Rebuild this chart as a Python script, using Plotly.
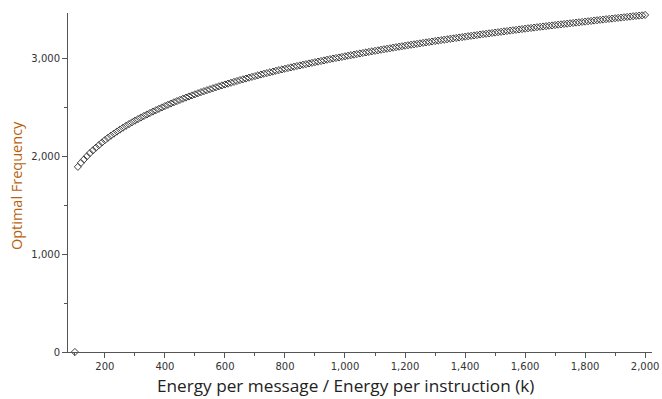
import plotly.graph_objects as go

# Energy ratio (k) sample grid and optimal frequency
energy_ratio = [100] + list(range(110, 2001, 10))
optimal_freq = [
    0,
    1890, 1930, 1965, 1998, 2030, 2058, 2086, 2112, 2138, 2163,
    2186, 2208, 2229, 2250, 2270, 2289, 2308, 2326, 2344, 2361,
    2377, 2393, 2409, 2424, 2439, 2454, 2468, 2482, 2496, 2510,
    2523, 2536, 2549, 2561, 2573, 2585, 2597, 2608, 2619, 2630,
    2641, 2652, 2662, 2672, 2682, 2692, 2702, 2712, 2721, 2730,
    2739, 2748, 2757, 2766, 2775, 2783, 2791, 2800, 2808, 2816,
    2824, 2832, 2840, 2847, 2855, 2862, 2870, 2877, 2884, 2891,
    2898, 2905, 2912, 2919, 2925, 2932, 2938, 2945, 2951, 2958,
    2964, 2970, 2976, 2983, 2989, 2995, 3001, 3006, 3012, 3018,
    3024, 3030, 3035, 3041, 3047, 3052, 3058, 3063, 3069, 3074,
    3079, 3085, 3090, 3095, 3100, 3106, 3111, 3116, 3121, 3126,
    3131, 3136, 3140, 3145, 3150, 3155, 3160, 3164, 3169, 3174,
    3178, 3183, 3187, 3192, 3196, 3201, 3205, 3210, 3214, 3218,
    3223, 3227, 3231, 3235, 3240, 3244, 3248, 3252, 3256, 3260,
    3264, 3268, 3272, 3276, 3280, 3284, 3288, 3292, 3296, 3300,
    3304, 3307, 3311, 3315, 3319, 3322, 3326, 3330, 3333, 3337,
    3341, 3344, 3348, 3351, 3355, 3358, 3362, 3365, 3369, 3372,
    3376, 3379, 3383, 3386, 3390, 3393, 3397, 3400, 3403, 3407,
    3410, 3413, 3417, 3420, 3423, 3427, 3430, 3433, 3436, 3440,
]

x_title = "Energy per message / Energy per instruction (k)"
y_title = "Optimal Frequency"

fig = go.Figure(
    go.Scatter(
        x=energy_ratio,
        y=optimal_freq,
        mode="markers",
        marker=dict(symbol="diamond-open", size=5.5, color="#404040", line=dict(width=1)),
        cliponaxis=False,
    )
)

axis_common = dict(
    showgrid=False,
    zeroline=False,
    showline=True,
    linecolor="#555555",
    linewidth=1,
    ticks="outside",
    ticklen=5,
    tickcolor="#555555",
    tickformat=",",
    automargin=False,
    tickfont=dict(family="DejaVu Sans", size=10, color="#333333"),
)

fig.update_xaxes(
    range=[77, 2023],
    dtick=200,
    tick0=0,
    minor=dict(dtick=100, ticks="outside", ticklen=3, tickcolor="#555555"),
    **axis_common,
)
fig.update_yaxes(
    range=[0, 3460],
    dtick=1000,
    minor=dict(dtick=500, ticks="outside", ticklen=3, tickcolor="#555555"),
    **axis_common,
)

fig.update_layout(
    width=662,
    height=399,
    margin=dict(l=68, r=10, t=13, b=47, autoexpand=False),
    plot_bgcolor="white",
    paper_bgcolor="white",
    showlegend=False,
    annotations=[
        dict(
            text=x_title, xref="paper", yref="paper", x=0.476, y=-0.1,
            yanchor="middle", xanchor="center", showarrow=False,
            font=dict(family="Open Sans", size=17.2, color="#222222"),
        ),
        dict(
            text=y_title, xref="paper", yref="paper", x=-0.087, y=0.49,
            xanchor="center", yanchor="middle", textangle=-90, showarrow=False,
            font=dict(family="Open Sans", size=14.5, color="#B8620F"),
        ),
    ],
)

fig.write_html("out.html")
